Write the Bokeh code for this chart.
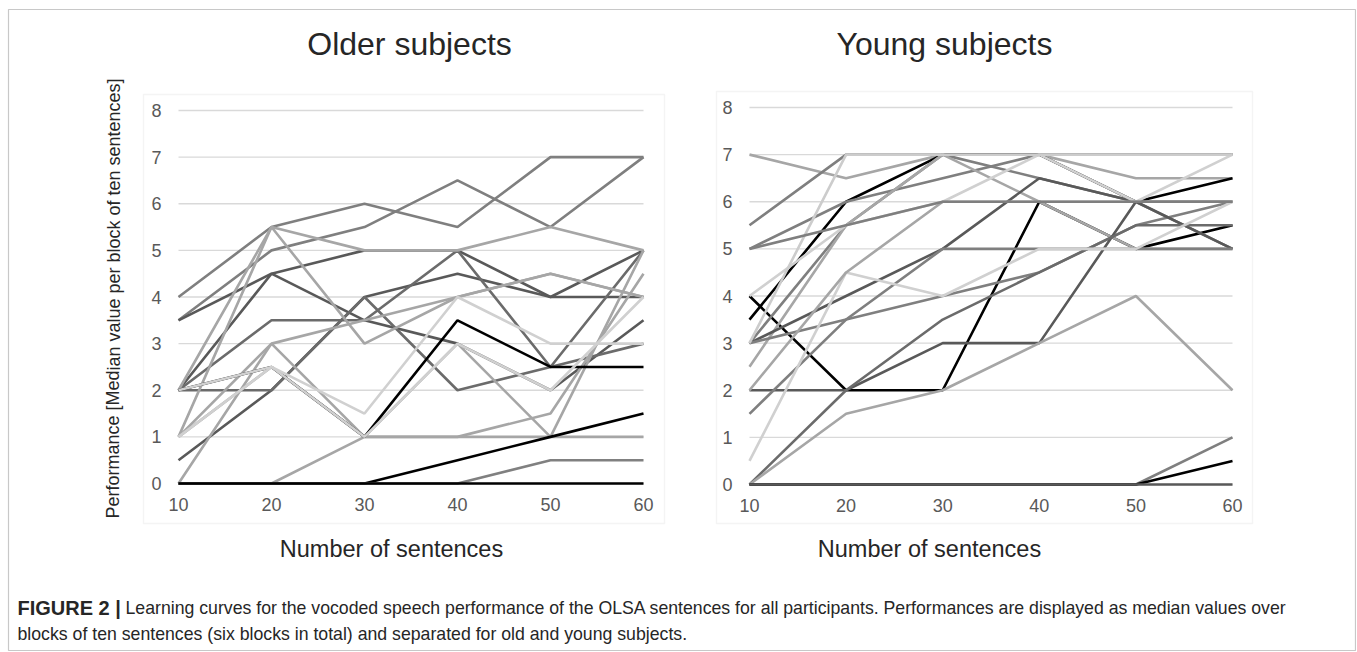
from bokeh.plotting import figure
from bokeh.models import LinearAxis, FixedTicker, Range1d, BoxAnnotation
from bokeh.core.properties import value
from bokeh.embed import file_html
from bokeh.resources import INLINE

blocks = [10, 20, 30, 40, 50, 60]
y_ticks = [0, 1, 2, 3, 4, 5, 6, 7, 8]

# ---- Older subjects (median value per block of ten sentences) ----
old_01 = [4, 5.5, 6, 5.5, 7, 7]
old_02 = [3.5, 5, 5.5, 6.5, 5.5, 7]
old_03 = [3.5, 4.5, 5, 5, 4, 4]
old_04 = [2, 4.5, 3.5, 3, 2, 3.5]
old_05 = [0.5, 2, 4, 4.5, 4, 5]
old_06 = [2, 3.5, 3.5, 5, 2.5, 5]
old_07 = [2, 2, 4, 2, 2.5, 3]
old_08 = [1, 5.5, 5, 5, 5.5, 5]
old_09 = [2, 5.5, 3, 4, 4.5, 4]
old_10 = [1, 3, 3.5, 4, 4.5, 4]
old_11 = [0, 3, 1, 3, 1, 5]
old_12 = [0, 0, 1, 1, 1.5, 4.5]
old_13 = [1, 2.5, 1, 1, 1, 1]
old_14 = [2, 2.5, 1, 3.5, 2.5, 2.5]
old_15 = [2, 2.5, 1.5, 4, 3, 3]
old_16 = [1, 2.5, 1, 3, 2, 4]
old_17 = [0, 0, 0, 0.5, 1, 1.5]
old_18 = [0, 0, 0, 0, 0.5, 0.5]
old_19 = [0, 0, 0, 0, 0, 0]
older = [old_01, old_02, old_03, old_04, old_05, old_06, old_07, old_08, old_09, old_10,
         old_11, old_12, old_13, old_14, old_15, old_16, old_17, old_18, old_19]
older_colors = ["#7f7f7f", "#7f7f7f", "#595959", "#595959", "#595959", "#6b6b6b",
                "#6b6b6b", "#a6a6a6", "#a6a6a6", "#a6a6a6", "#a6a6a6", "#a6a6a6",
                "#a6a6a6", "#000000", "#d0d0d0", "#d0d0d0", "#000000", "#808080", "#000000"]

# ---- Young subjects ----
yng_01 = [7, 6.5, 7, 7, 6.5, 6.5]
yng_02 = [5.5, 7, 7, 7, 7, 7]
yng_03 = [3.5, 6, 7, 7, 6, 6.5]
yng_04 = [4, 2, 2, 6, 5, 5.5]
yng_05 = [5, 6, 6.5, 7, 7, 7]
yng_06 = [3, 5.5, 7, 6.5, 6, 5]
yng_07 = [2.5, 5.5, 7, 6, 5, 5]
yng_08 = [3, 4, 5, 6.5, 6, 6]
yng_09 = [3, 3.5, 4, 4.5, 5.5, 6]
yng_10 = [2, 2, 3, 3, 6, 5]
yng_11 = [1.5, 3.5, 5, 5, 5, 5]
yng_12 = [0, 2, 3.5, 4.5, 5.5, 5.5]
yng_13 = [0, 1.5, 2, 3, 4, 2]
yng_14 = [0, 0, 0, 0, 0, 1]
yng_15 = [0, 0, 0, 0, 0, 0.5]
yng_16 = [0, 0, 0, 0, 0, 0]
yng_17 = [4, 5.5, 6, 7, 6, 7]
yng_18 = [0.5, 4.5, 4, 5, 5, 6]
yng_19 = [3, 7, 7, 7, 7, 7]
yng_20 = [2, 4.5, 6, 6, 6, 6]
yng_21 = [5, 5.5, 6, 6, 6, 6]
young = [yng_01, yng_02, yng_03, yng_04, yng_05, yng_06, yng_07, yng_08, yng_09, yng_10,
         yng_11, yng_12, yng_13, yng_14, yng_15, yng_16, yng_17, yng_18, yng_19, yng_20,
         yng_21]
young_colors = ["#a6a6a6", "#7f7f7f", "#000000", "#000000", "#7f7f7f", "#7f7f7f",
                "#a6a6a6", "#595959", "#7f7f7f", "#595959", "#7f7f7f", "#6b6b6b",
                "#a6a6a6", "#7f7f7f", "#000000", "#595959", "#d0d0d0", "#d0d0d0",
                "#cccccc", "#a6a6a6", "#7f7f7f"]

titles = ["Older subjects", "Young subjects"]
x_title = "Number of sentences"
y_title = "Performance [Median value per block of ten sentences]"
cap_bold = "FIGURE 2 |"
cap_line1 = ("Learning curves for the vocoded speech performance of the OLSA sentences for all "
             "participants. Performances are displayed as median values over")
cap_line2 = "blocks of ten sentences (six blocks in total) and separated for old and young subjects."

FONT = "Liberation Sans"
GRID = "#d9d9d9"
TICK = "#595959"
TXT = "#262626"
W, H = 1356, 651

# page (pixel) coordinate system: x to the right, y downward
p = figure(width=W, height=H, output_backend="svg", toolbar_location=None,
           x_range=Range1d(0, W), y_range=Range1d(H, 0),
           x_axis_location=None, y_axis_location=None, min_border=0)
p.title.visible = False
p.xgrid.visible = False
p.ygrid.visible = False
p.outline_line_color = None
p.background_fill_color = "white"
p.border_fill_color = "white"


def data_range(v0, px0, v1, px1, lo_px, hi_px):
    k = (px1 - px0) / (v1 - v0)
    return Range1d(v0 + (lo_px - px0) / k, v0 + (hi_px - px0) / k)


# panel geometry in page pixels: (x of first block, x of last block, y of 0, y of 8, plot-area box)
panels = [
    dict(name="old", series=older, colors=older_colors, x0=178, x1=643, y0=483, y8=110,
         box=(143, 664, 94, 523), title_xy=(409, 43), xlab_xy=(391, 548)),
    dict(name="yng", series=young, colors=young_colors, x0=749, x1=1232, y0=484, y8=107,
         box=(716, 1252, 91, 523), title_xy=(944, 43), xlab_xy=(929, 548)),
]

for pn in panels:
    xn, yn = pn["name"] + "_x", pn["name"] + "_y"
    p.extra_x_ranges[xn] = data_range(blocks[0], pn["x0"], blocks[-1], pn["x1"], 0, W)
    p.extra_y_ranges[yn] = data_range(y_ticks[0], pn["y0"], y_ticks[-1], pn["y8"], H, 0)
    l, r, t, b = pn["box"]
    p.add_layout(BoxAnnotation(left=l, right=r, top=t, bottom=b, fill_alpha=0,
                               line_color=GRID, line_width=1.4))
    p.segment(x0=[blocks[0]] * len(y_ticks), x1=[blocks[-1]] * len(y_ticks),
              y0=y_ticks, y1=y_ticks, line_color=GRID, line_width=1.3,
              x_range_name=xn, y_range_name=yn)
    for s, c in zip(pn["series"], pn["colors"]):
        p.line(blocks, s, line_color=c, line_width=2.6, x_range_name=xn, y_range_name=yn)
    ya = LinearAxis(x_range_name=xn, y_range_name=yn, fixed_location=blocks[0],
                    ticker=FixedTicker(ticks=y_ticks),
                    axis_line_color=None, major_tick_line_color=None,
                    minor_tick_line_color=None, major_tick_out=0, major_tick_in=0,
                    major_label_standoff=17, major_label_text_font_size="18px",
                    major_label_text_color=TICK, major_label_text_font=FONT)
    p.add_layout(ya, "left")
    xa = LinearAxis(x_range_name=xn, y_range_name=yn, fixed_location=y_ticks[0],
                    ticker=FixedTicker(ticks=blocks),
                    axis_line_color=None, major_tick_line_color=None,
                    minor_tick_line_color=None, major_tick_out=0, major_tick_in=0,
                    major_label_standoff=14, major_label_text_font_size="18px",
                    major_label_text_color=TICK, major_label_text_font=FONT)
    p.add_layout(xa, "below")

# titles and axis titles
p.text(x=[pn["title_xy"][0] for pn in panels], y=[pn["title_xy"][1] for pn in panels],
       text=titles, text_align="center", text_baseline="middle",
       text_font=value(FONT), text_font_size="32px", text_color=TXT)
p.text(x=[pn["xlab_xy"][0] for pn in panels], y=[pn["xlab_xy"][1] for pn in panels],
       text=[x_title, x_title], text_align="center", text_baseline="middle",
       text_font=value(FONT), text_font_size="23.5px", text_color=TXT)
p.text(x=[113], y=[298], text=[y_title], angle=1.5707963, text_align="center",
       text_baseline="middle", text_font=value(FONT), text_font_size="18px", text_color=TXT)

# caption
p.text(x=[17], y=[607], text=[cap_bold], text_align="left", text_baseline="middle",
       text_font=value(FONT), text_font_style="bold", text_font_size="20px", text_color=TXT)
p.text(x=[125, 17], y=[607, 633], text=[cap_line1, cap_line2], text_align="left",
       text_baseline="middle", text_font=value(FONT), text_font_size="17.7px", text_color=TXT)

# outer frame of the figure
p.add_layout(BoxAnnotation(left=8, right=1355, top=9, bottom=650, fill_alpha=0,
                           line_color="#4a4a4a", line_width=1.2))

open("out.html", "w").write(file_html(p, INLINE))
